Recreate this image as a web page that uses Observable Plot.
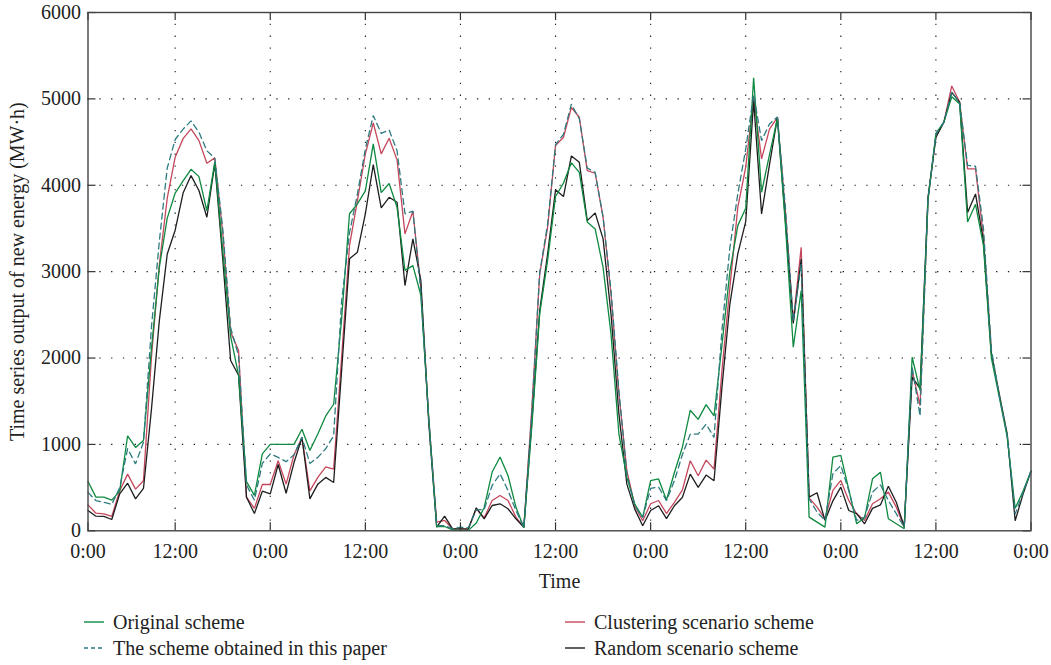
<!DOCTYPE html>
<html>
<head>
<meta charset="utf-8">
<script src="https://cdn.jsdelivr.net/npm/d3@7"></script>
<script src="https://cdn.jsdelivr.net/npm/@observablehq/plot@0.6"></script>
<style>
  body { margin: 0; background: #fff; }
  #wrap { position: relative; width: 1051px; height: 665px; background: #fff; font-family: "Liberation Serif", "DejaVu Serif", serif; color: #222; }
  #chart { position: absolute; left: 0; top: 0; }
  .leg { position: absolute; display: flex; align-items: center; font-size: 20px; white-space: nowrap; }
  .leg svg { display: block; margin-right: 9px; }
</style>
</head>
<body>
<div id="wrap"><div id="chart"></div></div>
<script>
// ---- data (hourly, 5 days, hour index 1..120) ----
const original = [570,390,390,355,460,1100,965,1045,2100,3050,3620,3910,4050,4185,4100,3705,4270,3250,2250,1800,570,410,890,1000,
1000,1000,1000,1175,930,1120,1330,1465,2450,3670,3785,3935,4480,3915,4020,3745,3015,3070,2730,1300,50,50,10,5,
5,90,270,680,855,640,275,35,1200,2510,3130,3870,4025,4260,4150,3575,3495,3050,2280,1120,620,310,155,580,
600,357,675,965,1395,1290,1460,1330,2150,3000,3533,3735,5243,3919,4355,4775,3550,2125,2780,158,100,42,853,872,
480,81,150,602,679,139,81,23,2009,1625,3830,4600,4730,5025,4940,3575,3780,3300,2000,1545,1085,260,460,690];

const thisPaper = [445,350,330,305,500,950,775,1025,2350,3350,4200,4530,4650,4745,4615,4400,4310,3500,2350,2030,530,355,780,890,
850,800,880,1085,780,850,950,1100,2650,3450,3900,4420,4807,4600,4640,4400,3670,3700,2780,1300,60,58,25,42,
35,243,247,525,660,467,235,40,1350,2990,3550,4470,4590,4940,4770,4200,4150,3630,2780,1620,660,290,154,490,
506,350,580,880,1119,1119,1235,1081,2320,3280,3900,4420,5050,4517,4710,4790,3750,2423,3090,370,216,120,660,757,
467,120,158,448,533,351,197,42,1895,1330,3830,4590,4730,5080,4950,4230,4220,3500,2100,1560,1100,193,445,690];

const clustering = [300,204,196,166,463,656,483,579,2000,3080,3850,4325,4540,4653,4517,4255,4317,3450,2300,2087,389,260,536,536,
811,540,880,1080,463,618,741,714,2000,3300,3821,4362,4722,4363,4544,4294,3437,3699,2820,1300,100,120,23,23,
23,255,150,351,409,351,158,40,1400,2972,3513,4460,4556,4900,4787,4170,4139,3630,2741,1583,695,290,116,313,
351,200,330,470,811,637,818,714,1853,2818,3745,4209,5019,4305,4650,4787,3700,2432,3281,382,274,139,467,583,
351,197,120,313,371,448,274,42,1857,1450,3830,4574,4729,5150,4960,4190,4190,3400,2070];

const random = [235,169,166,131,428,551,370,490,1400,2430,3205,3480,3910,4112,3940,3630,4250,3150,1971,1800,389,200,458,428,
767,435,790,1080,370,540,618,560,1850,3148,3225,3669,4240,3738,3861,3803,2839,3380,2900,1250,42,170,23,23,
20,266,139,293,313,255,139,40,1250,2548,3204,3947,3869,4340,4266,3591,3680,3380,2509,1351,540,251,58,235,
290,140,290,386,656,502,645,579,1660,2625,3206,3580,4980,3669,4240,4787,3600,2400,3146,390,440,120,347,506,
235,200,81,260,300,515,330,50,1779,1650,3860,4555,4729,5076,4960,3686,3900,3350,2050,1583,1119,116,425,690];

const xTicks = [1,12,24,36,48,60,72,84,96,108,120];
const xTickLabels = ["0:00","12:00","0:00","12:00","0:00","12:00","0:00","12:00","0:00","12:00","0:00"];
const yTicks = [0,1000,2000,3000,4000,5000,6000];

const seriesNames = ["Original scheme","The scheme obtained in this paper","Clustering scenario scheme","Random scenario scheme"];
const seriesColors = ["#0e8a40","#2d7b7f","#c4475c","#1e1e1e"];
const seriesDash = [null,"6,4",null,null];
const seriesValues = [original, thisPaper, clustering, random];

// ---- layout ----
const W = 1051, H = 595;
const mL = 87.5, mR = 20.5, mT = 12, mB = H - 530.3;
const plotW = W - mL - mR, plotH = H - mT - mB;

const rows = seriesValues.map((vals, k) => vals.map((v, i) => ({hour: i + 1, value: v, k})));
const labelMap = new Map(xTicks.map((t, i) => [t, xTickLabels[i]]));

const drawOrder = [2, 3, 0, 1];
const lineMarks = drawOrder.map(k => Plot.line(rows[k], {
  x: "hour", y: "value", stroke: seriesColors[k], strokeWidth: 1.3,
  strokeDasharray: seriesDash[k] || undefined, strokeLinejoin: "miter"
}));

const gridStyle = {stroke: "#000", strokeOpacity: 0.9, strokeWidth: 1.1, strokeDasharray: "1.3,10.5"};

const chart = Plot.plot({
  width: W, height: H,
  marginLeft: mL, marginRight: mR, marginTop: mT, marginBottom: mB,
  style: {fontFamily: "'Liberation Serif', 'DejaVu Serif', serif", fontSize: "20px", color: "#222", background: "#fff"},
  x: {domain: [1, 120]},
  y: {domain: [0, 6000]},
  marks: [
    Plot.gridX(xTicks.slice(1, -1), gridStyle),
    Plot.gridY(yTicks.slice(1, -1), gridStyle),
    ...lineMarks,
    Plot.tickX(xTicks, {insetTop: plotH - 8, stroke: "#333", strokeWidth: 1.2}),
    Plot.tickX(xTicks, {insetBottom: plotH - 8, stroke: "#333", strokeWidth: 1.2}),
    Plot.tickY(yTicks, {insetRight: plotW - 8, stroke: "#333", strokeWidth: 1.2}),
    Plot.tickY(yTicks, {insetLeft: plotW - 8, stroke: "#333", strokeWidth: 1.2}),
    Plot.frame({stroke: "#444", strokeWidth: 1.4}),
    Plot.axisX(xTicks, {tickSize: 0, tickPadding: 13, tickFormat: d => labelMap.get(d),
      label: "Time", labelAnchor: "center", labelArrow: "none", labelOffset: 57}),
    Plot.axisY(yTicks, {tickSize: 0, tickPadding: 7, tickFormat: d => String(d),
      label: "Time series output of new energy (MW·h)", labelAnchor: "center", labelArrow: "none", labelOffset: 78})
  ]
});
document.getElementById("chart").appendChild(chart);

// ---- legend (below the chart) ----
const legendPos = [
  {k: 0, left: 84, top: 622},
  {k: 1, left: 84, top: 648},
  {k: 2, left: 565, top: 622},
  {k: 3, left: 565, top: 648}
];
const wrap = document.getElementById("wrap");
legendPos.forEach(p => {
  const div = document.createElement("div");
  div.className = "leg";
  div.style.left = p.left + "px";
  div.style.top = (p.top - 12) + "px";
  div.style.height = "24px";
  const k = p.k;
  div.innerHTML = `<svg width="20" height="10"><line x1="0" y1="5" x2="20" y2="5" stroke="${seriesColors[k]}" stroke-width="1.4" ${seriesDash[k] ? 'stroke-dasharray="4,3"' : ''}/></svg><span>${seriesNames[k]}</span>`;
  wrap.appendChild(div);
});
</script>
</body>
</html>
